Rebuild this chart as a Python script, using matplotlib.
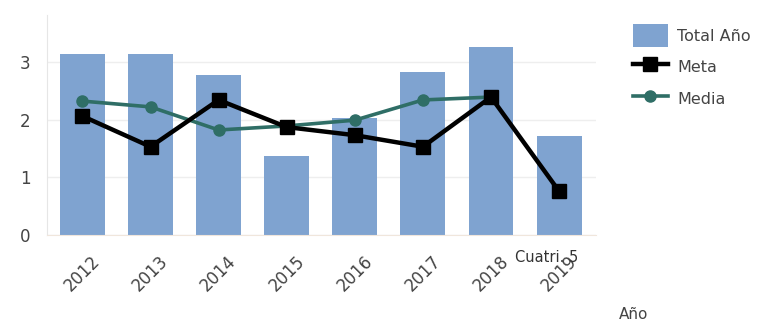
import matplotlib
matplotlib.use("Agg")
import matplotlib.pyplot as plt
import numpy as np

years = ["2012", "2013", "2014", "2015", "2016", "2017", "2018", "2019"]
total_anio = [3.14, 3.14, 2.77, 1.37, 2.02, 2.83, 3.26, 1.72]
meta = [2.06, 1.53, 2.34, 1.87, 1.73, 1.53, 2.39, 0.76]
media = [2.32, 2.22, 1.82, 1.89, 1.99, 2.34, 2.39, np.nan]

x = np.arange(len(years))

fig = plt.figure(figsize=(7.84, 3.27), dpi=100)
ax = fig.add_axes([0.06, 0.281, 0.70, 0.673])

b = ax.bar(x, total_anio, width=0.66, color="#7fa3d0", label="Total Año", zorder=2)
l1, = ax.plot(x, meta, color="black", lw=3.2, marker="s", ms=10, label="Meta", zorder=4)
l2, = ax.plot(x, media, color="#2f6e66", lw=2.6, marker="o", ms=8, label="Media", zorder=3)

ax.set_xlim(-0.52, 7.54)
ax.set_ylim(0, 3.81)
ax.set_yticks([0, 1, 2, 3])
ax.set_xticks(x)
ax.set_xticklabels(years, rotation=45, ha="center", fontsize=12, color="#444444")
ax.tick_params(axis="y", labelsize=12, colors="#444444", length=0, pad=12)
ax.tick_params(axis="x", length=0, pad=12)
ax.grid(axis="y", color="#eeeeee", lw=1, zorder=0)
for s in ["top", "right"]:
    ax.spines[s].set_visible(False)
ax.spines["left"].set_color("#e6e6e6")
ax.spines["bottom"].set_color("#f0e6dc")

fig.text(0.657, 0.2, "Cuatri. 5", fontsize=10.5, color="#333333")
fig.text(0.79, 0.025, "Año", fontsize=11, color="#444444")

ax.legend([b, l1, l2], ["Total Año", "Meta", "Media"],
          loc="upper left", bbox_to_anchor=(1.067, 0.96), frameon=False,
          fontsize=11.5, labelcolor="#444444", handlelength=2.2, handleheight=1.9,
          handletextpad=0.6, labelspacing=0.5, borderaxespad=0, borderpad=0)

fig.savefig("out.png", dpi=100)
